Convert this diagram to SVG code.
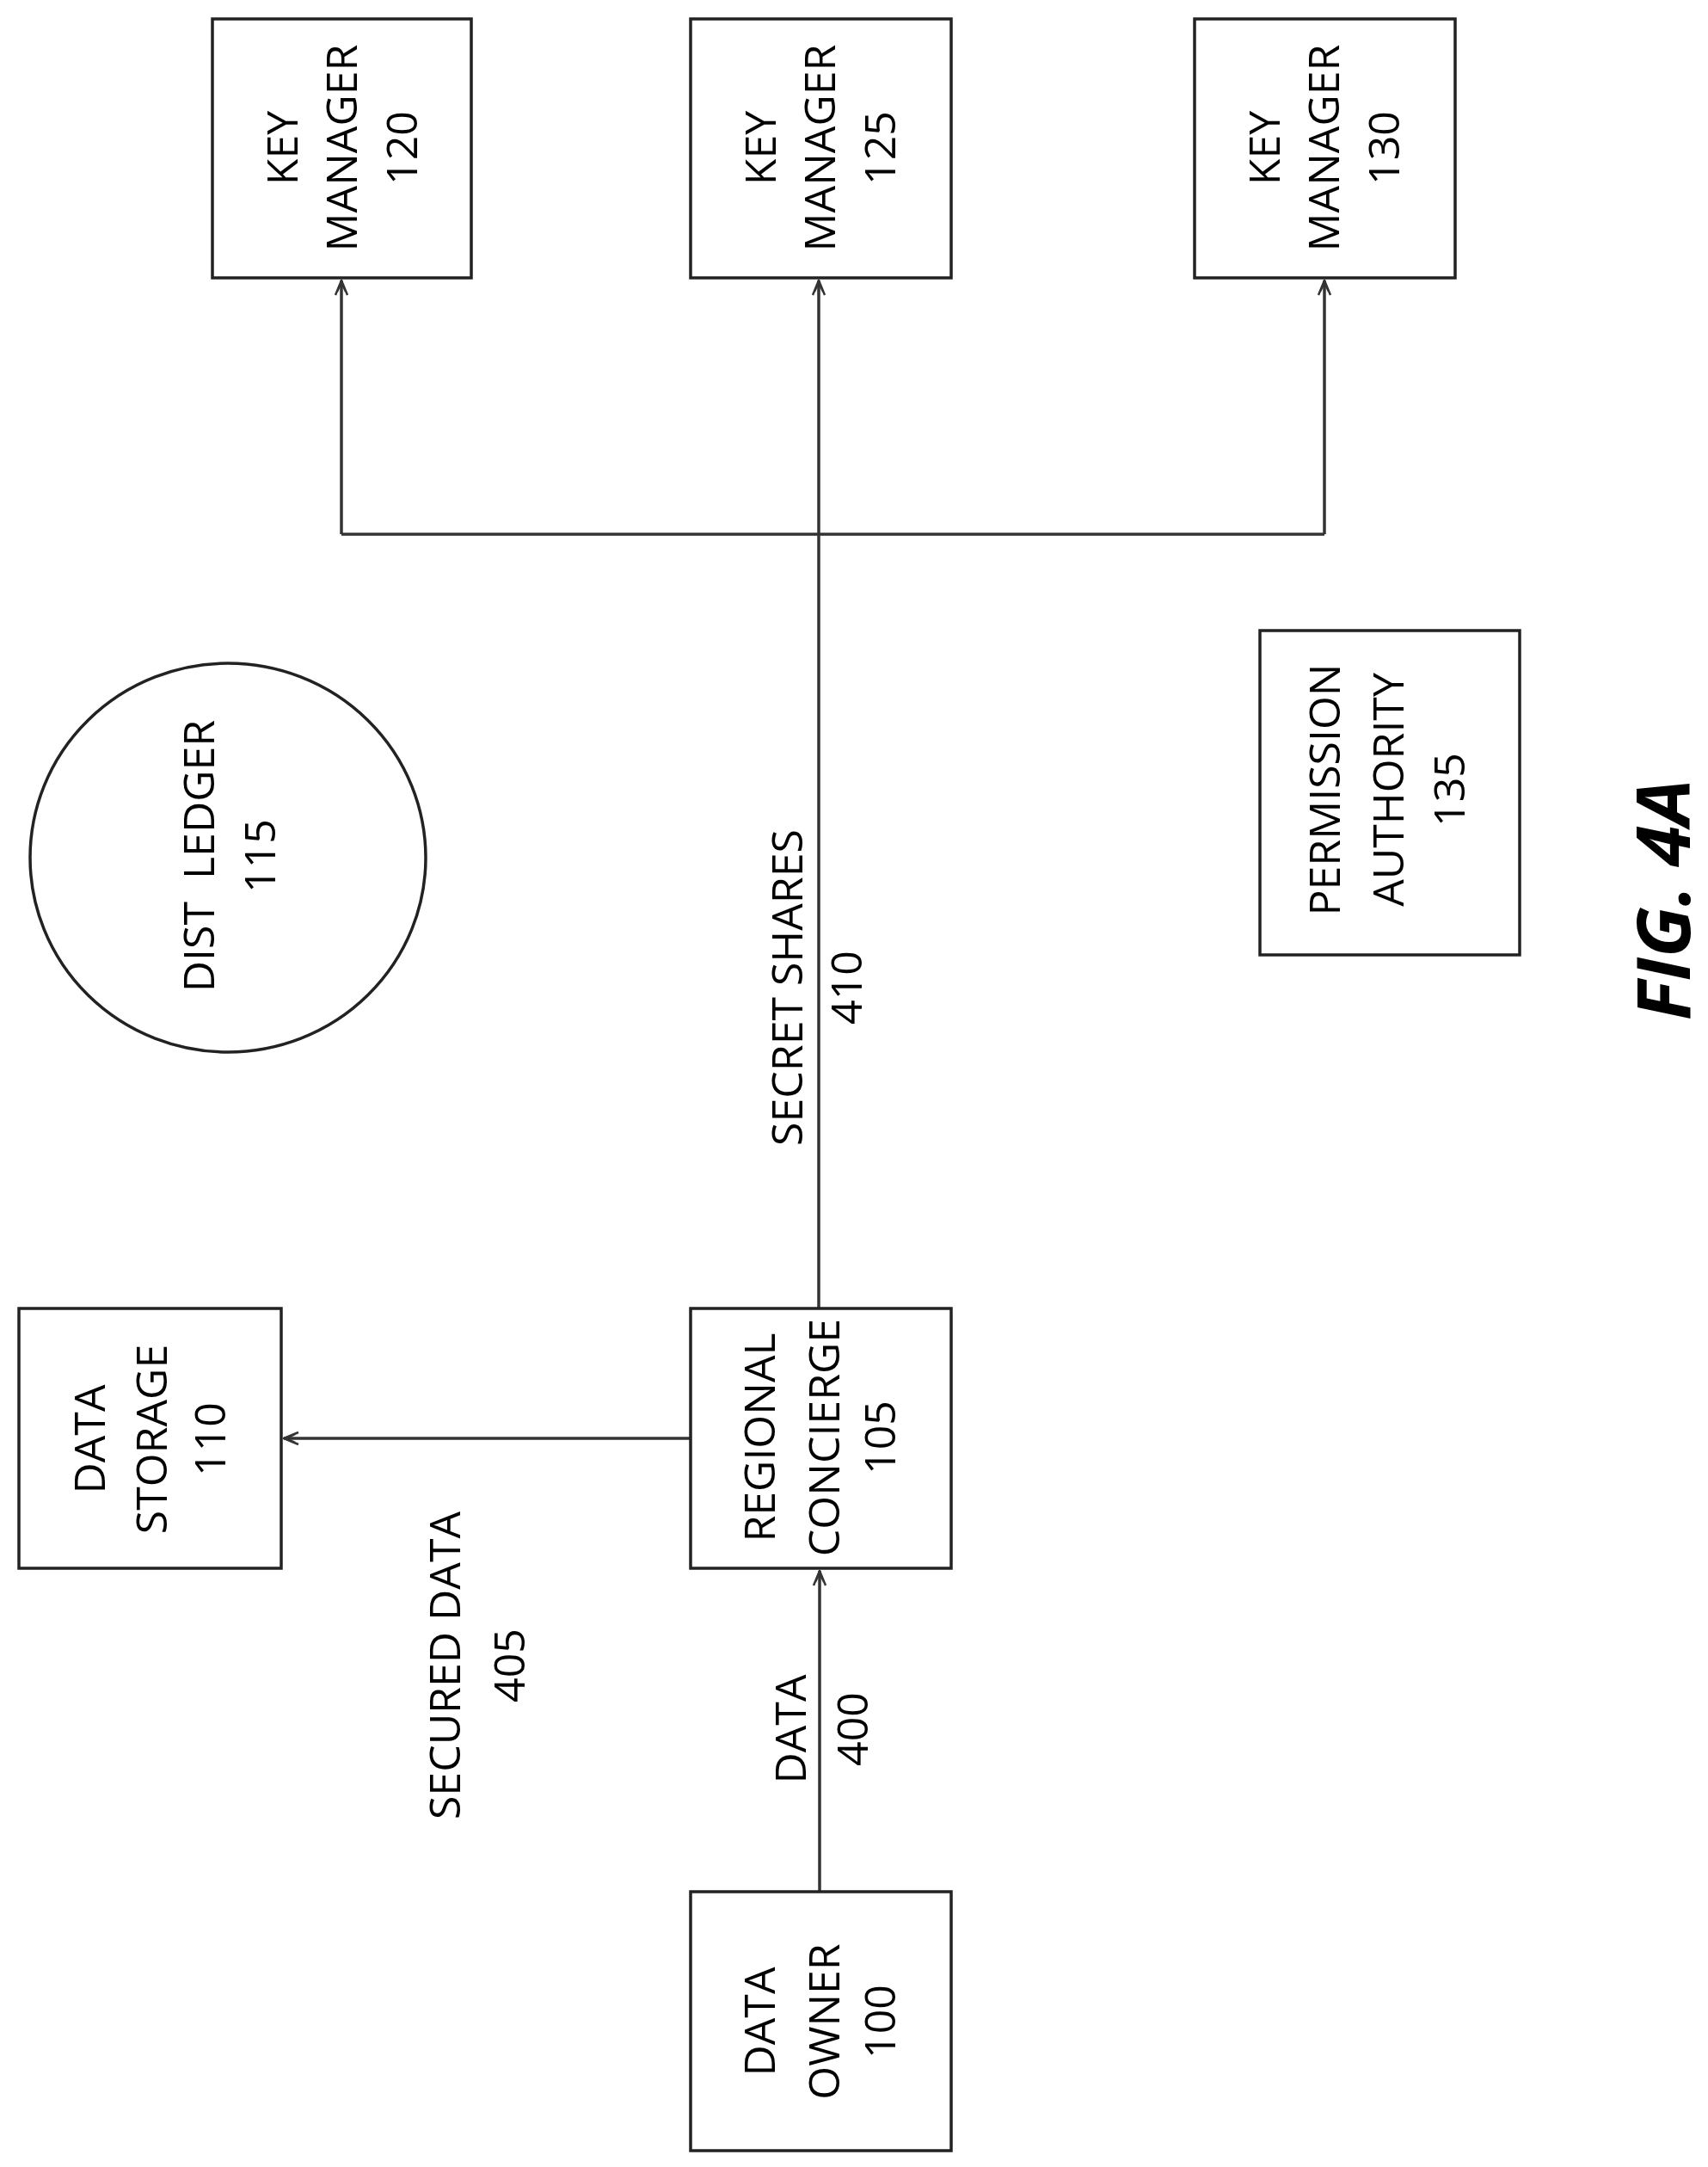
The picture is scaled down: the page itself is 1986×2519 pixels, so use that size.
<svg xmlns="http://www.w3.org/2000/svg" width="1986" height="2519" viewBox="0 0 1986 2519">
<defs>
<style>
.box{fill:none;stroke:#222;stroke-width:3.5}
.ln{fill:none;stroke:#333;stroke-width:3.5}
text{font-family:"Open Sans","Liberation Sans",sans-serif;font-size:50px;fill:#000;text-anchor:middle}
.fig{font-size:86px;font-weight:bold;font-style:italic}
</style>
<marker id="arr" viewBox="0 0 20 20" refX="19" refY="10" markerWidth="20" markerHeight="20" markerUnits="userSpaceOnUse" orient="auto">
<path d="M2,3 L19,10 L2,17 M6,5 L17,10 L6,15" fill="none" stroke="#333" stroke-width="2.5"/>
</marker>
</defs>
<rect width="1986" height="2519" fill="#fff"/>
<g id="connectors">
<path class="ln" d="M952,1521 V621" />
<path class="ln" d="M952,621 V326" marker-end="url(#arr)"/>
<path class="ln" d="M397,621 H1540"/>
<path class="ln" d="M397,621 V326" marker-end="url(#arr)"/>
<path class="ln" d="M1540,621 V326" marker-end="url(#arr)"/>
<path class="ln" d="M803,1672 H330" marker-end="url(#arr)"/>
<path class="ln" d="M953,2199 V1826" marker-end="url(#arr)"/>
<text transform="translate(933,1148) rotate(-90)">SECRET SHARES</text>
<text transform="translate(1002,1148) rotate(-90)">410</text>
<text transform="translate(535,1936) rotate(-90)">SECURED DATA</text>
<text transform="translate(610,1936) rotate(-90)">405</text>
<text transform="translate(937,2010) rotate(-90)">DATA</text>
<text transform="translate(1009,2010) rotate(-90)">400</text>
</g>
<g id="km120">
<rect class="box" x="247" y="22" width="301" height="301"/>
<text transform="translate(346,172) rotate(-90)">KEY</text>
<text transform="translate(415,172) rotate(-90)">MANAGER</text>
<text transform="translate(485,172) rotate(-90)">120</text>
</g>
<g id="km125">
<rect class="box" x="803" y="22" width="303" height="301"/>
<text transform="translate(902,172) rotate(-90)">KEY</text>
<text transform="translate(971,172) rotate(-90)">MANAGER</text>
<text transform="translate(1041,172) rotate(-90)">125</text>
</g>
<g id="km130">
<rect class="box" x="1389" y="22" width="303" height="301"/>
<text transform="translate(1488,172) rotate(-90)">KEY</text>
<text transform="translate(1557,172) rotate(-90)">MANAGER</text>
<text transform="translate(1627,172) rotate(-90)">130</text>
</g>
<g id="distledger">
<ellipse class="box" cx="265" cy="997" rx="230" ry="226"/>
<text transform="translate(249,995) rotate(-90)" xml:space="preserve">DIST  LEDGER</text>
<text transform="translate(320,995) rotate(-90)">115</text>
</g>
<g id="permission">
<rect class="box" x="1465" y="733" width="302" height="377"/>
<text transform="translate(1558,918) rotate(-90)">PERMISSION</text>
<text transform="translate(1632,918) rotate(-90)">AUTHORITY</text>
<text transform="translate(1703,918) rotate(-90)">135</text>
</g>
<g id="datastorage">
<rect class="box" x="22" y="1521" width="305" height="302"/>
<text transform="translate(122,1673) rotate(-90)">DATA</text>
<text transform="translate(194,1673) rotate(-90)">STORAGE</text>
<text transform="translate(262,1673) rotate(-90)">110</text>
</g>
<g id="concierge">
<rect class="box" x="803" y="1521" width="303" height="302"/>
<text transform="translate(901,1671) rotate(-90)">REGIONAL</text>
<text transform="translate(976,1671) rotate(-90)">CONCIERGE</text>
<text transform="translate(1041,1671) rotate(-90)">105</text>
</g>
<g id="dataowner">
<rect class="box" x="803" y="2199" width="303" height="301"/>
<text transform="translate(901,2350) rotate(-90)">DATA</text>
<text transform="translate(976,2350) rotate(-90)">OWNER</text>
<text transform="translate(1041,2350) rotate(-90)">100</text>
</g>
<g id="caption">
<text class="fig" transform="translate(1965,1046) rotate(-90)">FIG. 4A</text>
</g>
</svg>
